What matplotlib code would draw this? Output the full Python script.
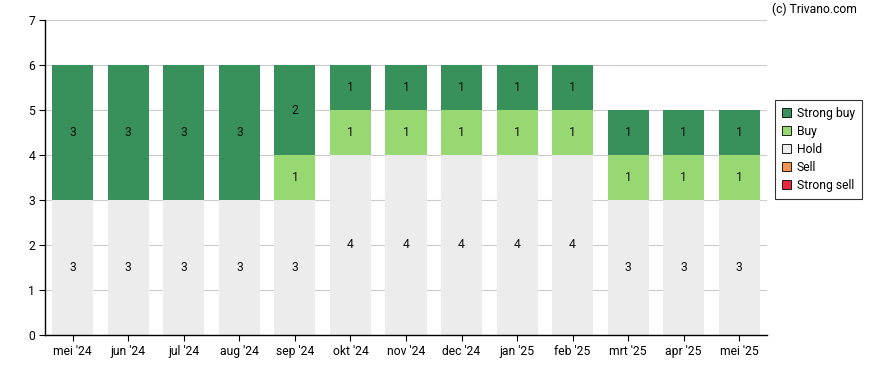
import matplotlib
matplotlib.use("Agg")
import matplotlib.pyplot as plt
import numpy as np
from matplotlib.patches import Patch

plt.rcParams['font.family'] = ['Roboto', 'DejaVu Sans']

months = ["mei '24", "jun '24", "jul '24", "aug '24", "sep '24", "okt '24", "nov '24",
          "dec '24", "jan '25", "feb '25", "mrt '25", "apr '25", "mei '25"]
strong_sell = [0, 0, 0, 0, 0, 0, 0, 0, 0, 0, 0, 0, 0]
sell = [0, 0, 0, 0, 0, 0, 0, 0, 0, 0, 0, 0, 0]
hold = [3, 3, 3, 3, 3, 4, 4, 4, 4, 4, 3, 3, 3]
buy = [0, 0, 0, 0, 1, 1, 1, 1, 1, 1, 1, 1, 1]
strong_buy = [3, 3, 3, 3, 2, 1, 1, 1, 1, 1, 1, 1, 1]

series = [("Strong sell", strong_sell, "#e8283c"),
          ("Sell", sell, "#f5914f"),
          ("Hold", hold, "#ececec"),
          ("Buy", buy, "#98d872"),
          ("Strong buy", strong_buy, "#38915a")]

FS = 8.7

fig = plt.figure(figsize=(8.88, 3.70), dpi=100)
ax = fig.add_axes([45/888, 35/370, (767-45)/888, (335-20)/370])

x = np.arange(len(months))
bottom = np.zeros(len(months))
for name, vals, col in series:
    vals = np.array(vals, dtype=float)
    ax.bar(x, vals, bottom=bottom, width=0.74, color=col, zorder=2)
    for xi, v, b in zip(x, vals, bottom):
        if v > 0:
            ax.text(xi, b + v/2, f"{int(v)}", ha='center', va='center', fontsize=FS, color='#111111', zorder=3)
    bottom += vals

ax.set_xlim(-0.5, len(months) - 0.5)
ax.set_ylim(0, 7)
ax.set_yticks(range(0, 8))
ax.set_xticks(x)
ax.set_xticklabels(months)
ax.tick_params(axis='both', labelsize=FS, length=4, color='black', direction='out', pad=3)
ax.yaxis.grid(True, color='#cccccc', linewidth=0.8, zorder=0)
ax.set_axisbelow(True)
for s in ['top', 'right']:
    ax.spines[s].set_visible(False)
for s in ['left', 'bottom']:
    ax.spines[s].set_linewidth(1.0)
    ax.spines[s].set_color('black')

handles = [Patch(facecolor=c, edgecolor='black', linewidth=0.6, label=n) for n, _, c in reversed(series)]
leg = fig.legend(handles=handles, loc='upper left', bbox_to_anchor=(775/888, 1 - 100/370),
                 fontsize=FS, frameon=True, fancybox=False, edgecolor='black',
                 handlelength=0.75, handleheight=0.75, handletextpad=0.5, labelspacing=0.42,
                 borderpad=0.55, borderaxespad=0)
leg.get_frame().set_linewidth(0.8)

fig.text(857/888, 1 - 9/370, "(c) Trivano.com", ha='right', va='center', fontsize=FS)

fig.savefig("out.png", dpi=100)
